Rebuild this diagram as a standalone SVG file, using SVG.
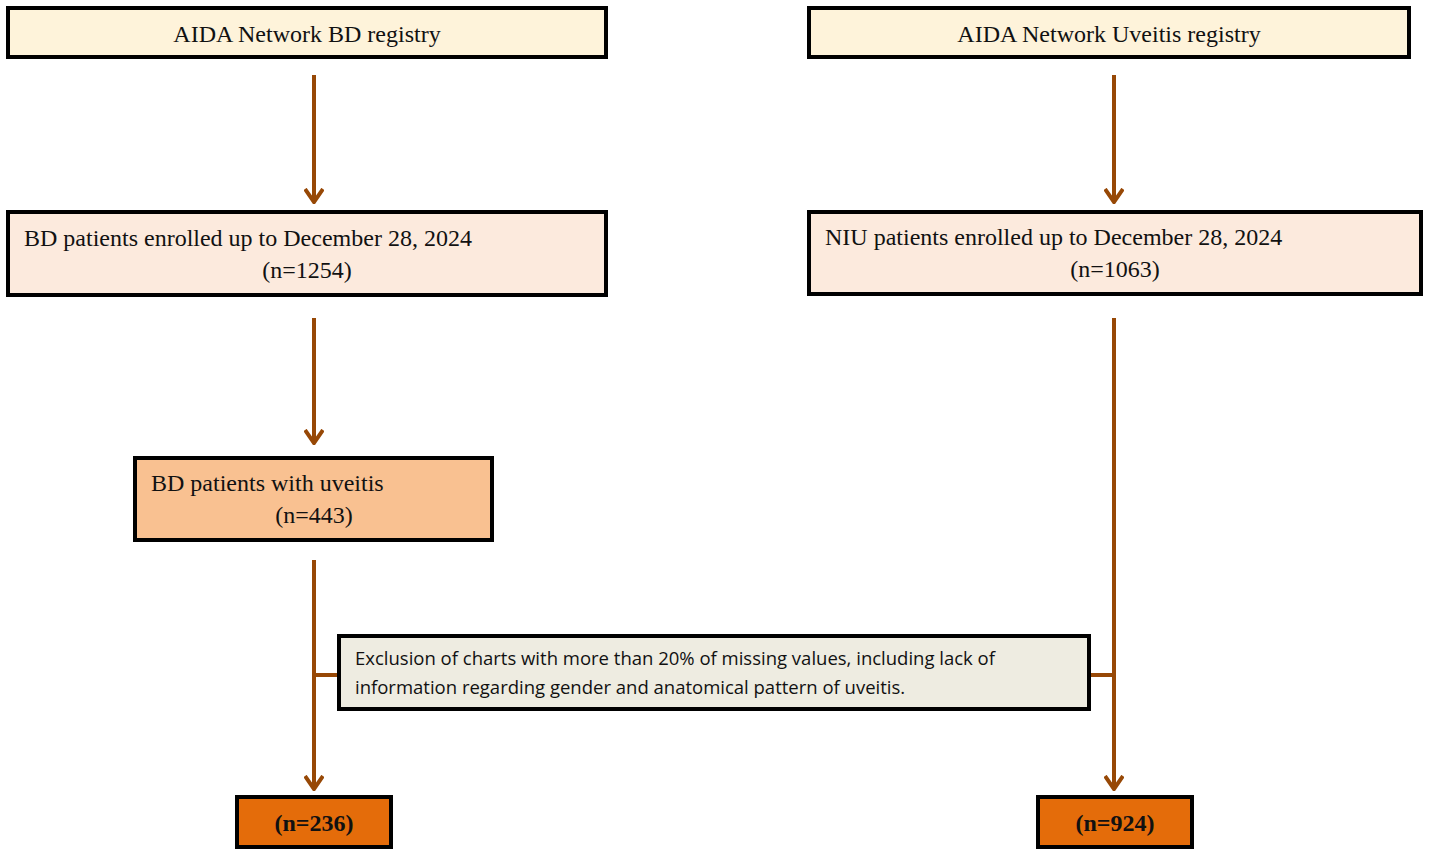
<svg xmlns="http://www.w3.org/2000/svg" width="1429" height="855" viewBox="0 0 1429 855">
<style>
.b{stroke:#000;stroke-width:4}
.t{font-family:"Liberation Serif",serif;font-size:24px;fill:#111}
.s{font-family:"Open Sans","Liberation Sans",sans-serif;font-size:18.5px;fill:#111}
.c{stroke:#974806;stroke-width:4;fill:none}
</style>
<defs><marker id="a" viewBox="0 0 20 16" refX="10" refY="14" markerWidth="20" markerHeight="16" markerUnits="userSpaceOnUse" orient="auto-start-reverse"><path d="M1 1 L10 14 L19 1" fill="none" stroke="#974806" stroke-width="4"/></marker>
<marker id="d" viewBox="0 0 20 16" refX="10" refY="14" markerWidth="20" markerHeight="16" markerUnits="userSpaceOnUse"><path d="M1 1 L10 14 L19 1" fill="none" stroke="#974806" stroke-width="4"/></marker></defs>
<g id="connectors">
<line class="c" x1="314" y1="75" x2="314" y2="202" marker-end="url(#d)"/>
<line class="c" x1="314" y1="318" x2="314" y2="443" marker-end="url(#d)"/>
<line class="c" x1="314" y1="560" x2="314" y2="789" marker-end="url(#d)"/>
<line class="c" x1="1114" y1="75" x2="1114" y2="202" marker-end="url(#d)"/>
<line class="c" x1="1114" y1="318" x2="1114" y2="789" marker-end="url(#d)"/>
<line class="c" x1="314" y1="675" x2="339" y2="675"/>
<line class="c" x1="1089" y1="675" x2="1114" y2="675"/>
</g>
<g id="n1"><rect class="b" x="8" y="8" width="598" height="49" fill="#FEF3DA"/><text class="t" x="307" y="42" text-anchor="middle">AIDA Network BD registry</text></g>
<g id="n2"><rect class="b" x="809" y="8" width="600" height="49" fill="#FEF3DA"/><text class="t" x="1109" y="42" text-anchor="middle">AIDA Network Uveitis registry</text></g>
<g id="n3"><rect class="b" x="8" y="212" width="598" height="83" fill="#FCEADD"/><text class="t" x="24" y="246">BD patients enrolled up to December 28, 2024</text><text class="t" x="307" y="278" text-anchor="middle">(n=1254)</text></g>
<g id="n4"><rect class="b" x="809" y="212" width="612" height="82" fill="#FCEADD"/><text class="t" x="825" y="245">NIU  patients enrolled up to December 28, 2024</text><text class="t" x="1115" y="277" text-anchor="middle">(n=1063)</text></g>
<g id="n5"><rect class="b" x="135" y="458" width="357" height="82" fill="#F9C191"/><text class="t" x="151" y="491">BD patients with uveitis</text><text class="t" x="314" y="523" text-anchor="middle">(n=443)</text></g>
<g id="n6"><rect class="b" x="339" y="636" width="750" height="73" fill="#EEECE1"/><text class="s" x="355" y="665">Exclusion of charts with more than 20% of missing values, including lack of</text><text class="s" x="355" y="694">information regarding gender and anatomical pattern of uveitis.</text></g>
<g id="n7"><rect class="b" x="237" y="797" width="154" height="50" fill="#E46C0A"/><text class="t" x="314" y="831" text-anchor="middle" font-weight="bold">(n=236)</text></g>
<g id="n8"><rect class="b" x="1038" y="797" width="154" height="50" fill="#E46C0A"/><text class="t" x="1115" y="831" text-anchor="middle" font-weight="bold">(n=924)</text></g>
</svg>
